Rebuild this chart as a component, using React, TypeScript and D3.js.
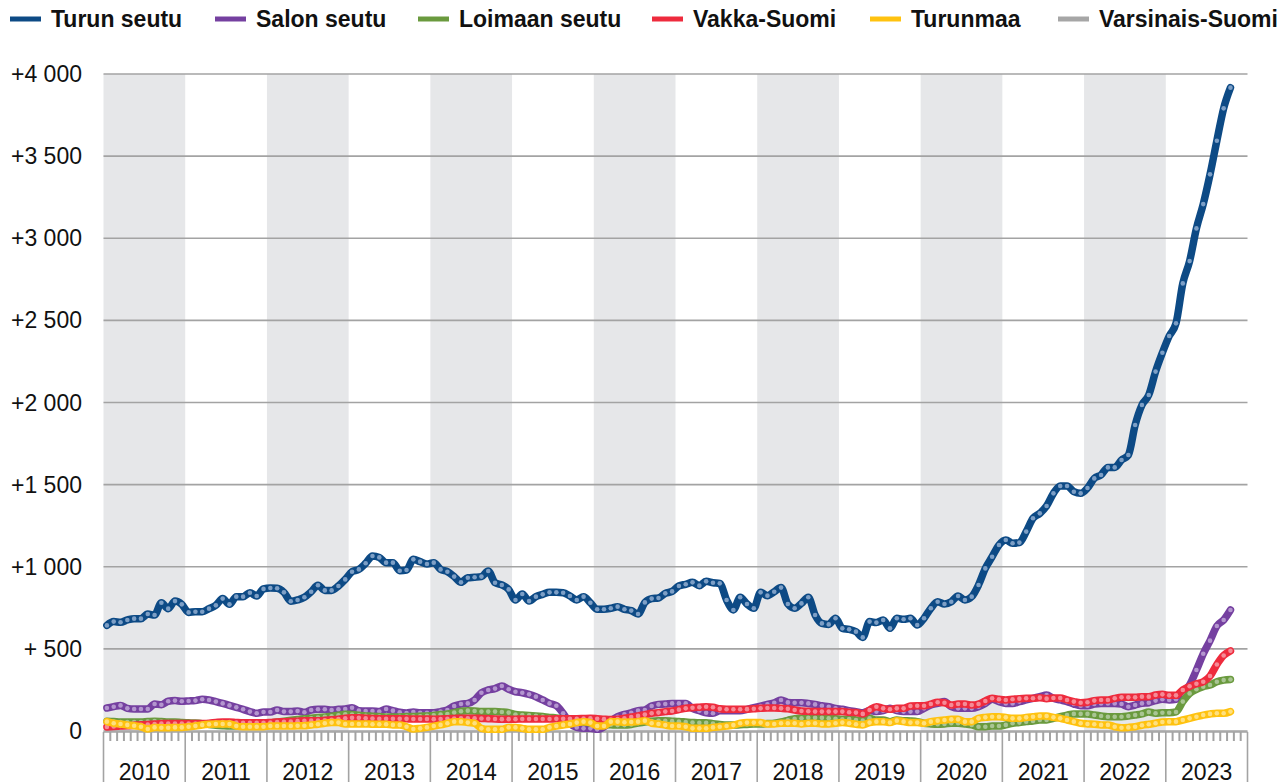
import React from "react";
import * as d3 from "d3";

// Monthly data, Jan 2010 .. Oct 2023
const years = d3.range(2010, 2024);

const turunSeutu = [
  643, 666, 662, 676, 684, 684, 712, 706, 781, 745, 791, 771,
  722, 726, 726, 745, 765, 806, 771, 818, 818, 842, 822, 865,
  871, 869, 844, 790, 798, 814, 848, 887, 856, 856, 883, 923,
  970, 984, 1021, 1065, 1057, 1025, 1025, 976, 980, 1045, 1031, 1017,
  1025, 984, 970, 940, 905, 933, 936, 940, 974, 903, 889, 862,
  798, 834, 791, 818, 832, 844, 844, 842, 822, 798, 818, 781,
  741, 741, 747, 757, 741, 733, 712, 783, 806, 810, 838, 850,
  883, 893, 905, 885, 911, 903, 899, 798, 737, 814, 773, 747,
  844, 824, 848, 873, 773, 747, 777, 814, 706, 655, 649, 686,
  625, 619, 605, 570, 666, 660, 676, 625, 686, 680, 686, 645,
  686, 747, 787, 773, 787, 822, 798, 818, 889, 990, 1061, 1132,
  1163, 1143, 1147, 1214, 1295, 1325, 1370, 1447, 1492, 1492, 1457, 1447,
  1479, 1538, 1559, 1605, 1605, 1650, 1680, 1863, 1985, 2046, 2188, 2303,
  2405, 2482, 2725, 2861, 3060, 3208, 3389, 3594, 3791, 3917,
];

const salonSeutu = [
  140, 148, 156, 138, 134, 134, 134, 164, 160, 181, 185, 181,
  183, 185, 193, 189, 179, 168, 156, 144, 132, 118, 108, 116,
  116, 128, 118, 118, 122, 114, 128, 132, 132, 128, 132, 134,
  142, 124, 122, 122, 118, 134, 124, 114, 110, 116, 111, 111,
  111, 118, 128, 152, 164, 168, 189, 233, 250, 258, 274, 254,
  239, 233, 223, 209, 189, 168, 154, 108, 47, 22, 16, 16,
  10, 26, 61, 87, 101, 111, 124, 128, 152, 162, 164, 168,
  168, 168, 138, 124, 111, 108, 124, 124, 124, 124, 132, 142,
  152, 162, 172, 189, 174, 172, 172, 168, 162, 154, 148, 138,
  132, 124, 118, 111, 124, 118, 124, 138, 124, 118, 118, 118,
  138, 158, 168, 179, 148, 138, 138, 138, 148, 168, 193, 179,
  168, 168, 179, 189, 199, 209, 219, 199, 189, 179, 164, 154,
  154, 164, 168, 168, 168, 164, 148, 158, 168, 172, 185, 193,
  189, 193, 229, 280, 371, 470, 550, 639, 676, 737,
];

const loimaanSeutu = [
  60, 58, 55, 55, 55, 55, 58, 60, 58, 55, 55, 52,
  50, 48, 45, 40, 35, 32, 30, 30, 32, 35, 40, 45,
  50, 55, 60, 65, 70, 75, 78, 82, 86, 90, 96, 102,
  100, 96, 92, 90, 88, 86, 85, 86, 88, 88, 90, 92,
  95, 100, 103, 112, 120, 124, 122, 118, 118, 118, 116, 112,
  100, 97, 95, 92, 88, 83, 80, 75, 70, 62, 55, 50,
  45, 40, 38, 36, 36, 40, 48, 55, 60, 62, 62, 60,
  58, 55, 52, 50, 50, 45, 40, 36, 36, 38, 40, 42,
  42, 45, 48, 55, 65, 75, 78, 80, 80, 80, 78, 75,
  71, 73, 67, 63, 77, 67, 67, 57, 67, 63, 61, 57,
  47, 43, 41, 43, 47, 47, 43, 37, 26, 26, 30, 30,
  37, 47, 51, 57, 61, 67, 67, 77, 87, 97, 104, 104,
  104, 97, 91, 87, 87, 87, 91, 97, 104, 116, 108, 111,
  111, 116, 179, 229, 254, 270, 280, 300, 310, 314,
];

const vakkaSuomi = [
  25, 28, 30, 32, 35, 38, 40, 42, 45, 45, 46, 46,
  45, 45, 46, 48, 52, 55, 55, 52, 50, 50, 50, 50,
  52, 55, 56, 58, 60, 62, 63, 63, 65, 68, 72, 78,
  80, 80, 78, 76, 75, 75, 75, 75, 74, 73, 73, 73,
  72, 73, 75, 76, 78, 78, 78, 76, 75, 73, 72, 72,
  72, 73, 73, 73, 73, 73, 74, 74, 75, 75, 76, 77,
  75, 72, 70, 72, 78, 85, 92, 100, 108, 112, 118, 122,
  130, 138, 142, 145, 148, 145, 135, 132, 132, 132, 133, 135,
  138, 140, 140, 138, 135, 128, 122, 120, 118, 118, 118, 118,
  118, 114, 112, 104, 128, 148, 138, 132, 138, 138, 152, 154,
  154, 164, 175, 172, 158, 164, 164, 158, 164, 183, 199, 193,
  189, 193, 197, 199, 199, 203, 197, 201, 201, 189, 179, 172,
  175, 185, 189, 189, 199, 205, 205, 205, 209, 209, 219, 223,
  217, 217, 250, 272, 288, 300, 335, 405, 460, 488,
];

const turunmaa = [
  57, 47, 43, 37, 32, 26, 12, 22, 20, 20, 22, 22,
  26, 30, 37, 41, 43, 43, 43, 30, 26, 26, 26, 26,
  30, 30, 30, 30, 32, 32, 37, 41, 47, 51, 51, 43,
  43, 43, 43, 41, 41, 41, 37, 37, 26, 12, 16, 22,
  30, 37, 47, 57, 57, 51, 47, 16, 10, 10, 10, 22,
  22, 16, 10, 10, 10, 22, 30, 37, 43, 51, 57, 51,
  30, 30, 57, 57, 53, 55, 57, 63, 47, 43, 36, 30,
  30, 26, 16, 16, 16, 22, 26, 30, 36, 47, 51, 51,
  51, 43, 43, 47, 47, 47, 43, 47, 47, 43, 43, 47,
  51, 47, 41, 37, 51, 57, 57, 51, 63, 57, 51, 51,
  47, 57, 63, 67, 71, 71, 57, 57, 77, 83, 87, 87,
  83, 77, 77, 83, 87, 91, 91, 83, 77, 67, 57, 47,
  43, 41, 37, 37, 26, 20, 22, 26, 35, 41, 47, 55,
  57, 57, 67, 77, 87, 97, 104, 108, 108, 118,
];

const yTicks = [0, 500, 1000, 1500, 2000, 2500, 3000, 3500, 4000];
const yTickLabels = ["0", "+ 500", "+1 000", "+1 500", "+2 000", "+2 500", "+3 000", "+3 500", "+4 000"];

const series = [
  { name: "Salon seutu", values: salonSeutu, color: "#7540a0", dot: "#b496cf" },
  { name: "Loimaan seutu", values: loimaanSeutu, color: "#6a9a3e", dot: "#a9c593" },
  { name: "Vakka-Suomi", values: vakkaSuomi, color: "#ee2b3d", dot: "#f58b97" },
  { name: "Turunmaa", values: turunmaa, color: "#ffc20f", dot: "#ffe07e" },
  { name: "Turun seutu", values: turunSeutu, color: "#0d4a85", dot: "#7d9fc6" },
];

const legendItems = [
  { name: "Turun seutu", color: "#0d4a85", x: 10 },
  { name: "Salon seutu", color: "#7540a0", x: 215 },
  { name: "Loimaan seutu", color: "#6a9a3e", x: 418 },
  { name: "Vakka-Suomi", color: "#ee2b3d", x: 652 },
  { name: "Turunmaa", color: "#ffc20f", x: 870 },
  { name: "Varsinais-Suomi", color: "#a6a6a6", x: 1058 },
];

const W = 1282;
const H = 782;
const left = 103.5;
const right = 1247.5;
const top = 74;
const bottom = 731;
const font = "'Liberation Sans', Arial, sans-serif";

export default function App() {
  const nMonths = years.length * 12;
  const x = d3.scaleLinear().domain([0, nMonths]).range([left, right]);
  const y = d3.scaleLinear().domain([0, 4000]).range([bottom, top]);

  const line = d3
    .line<number>()
    .x((_, i) => x(i + 0.5))
    .y((d) => y(d))
    .curve(d3.curveMonotoneX);

  const monthTicks = d3.range(0, nMonths + 1);

  return (
    <svg
      width={W}
      height={H}
      style={{ position: "absolute", left: 0, top: 0, background: "#fff" }}
      fontFamily={font}
    >
      {years.map((yr, k) =>
        k % 2 === 0 ? (
          <rect
            key={"band" + yr}
            x={x(k * 12)}
            y={top}
            width={x((k + 1) * 12) - x(k * 12)}
            height={bottom - top}
            fill="#e6e7e9"
          />
        ) : null
      )}
      {yTicks.map((t) => (
        <line key={"g" + t} x1={left} x2={right} y1={y(t)} y2={y(t)} stroke="#a3a3a3" strokeWidth={1.6} />
      ))}
      {yTicks.map((t, i) => (
        <text
          key={"yl" + t}
          x={82}
          y={y(t)}
          textAnchor="end"
          dominantBaseline="central"
          fontSize={23}
          fill="#111"
        >
          {yTickLabels[i]}
        </text>
      ))}
      <line x1={left} x2={right} y1={bottom + 1} y2={bottom + 1} stroke="#a3a3a3" strokeWidth={1.6} />
      {monthTicks.map((m) => (
        <line
          key={"t" + m}
          x1={x(m)}
          x2={x(m)}
          y1={bottom + 1}
          y2={m % 12 === 0 ? H : bottom + 10}
          stroke="#a3a3a3"
          strokeWidth={m % 12 === 0 ? 1.6 : 2}
        />
      ))}
      {years.map((yr, k) => (
        <text
          key={"xl" + yr}
          x={x(k * 12 + 6)}
          y={780}
          textAnchor="middle"
          fontSize={23}
          fill="#111"
        >
          {String(yr)}
        </text>
      ))}
      {series.map((s) => (
        <g key={s.name}>
          <path d={line(s.values) || ""} fill="none" stroke={s.color} strokeWidth={7.5} strokeLinejoin="round" strokeLinecap="round" />
          {s.values.map((v, i) => (
            <circle key={i} cx={x(i + 0.5)} cy={y(v)} r={2.3} fill={s.dot} />
          ))}
        </g>
      ))}
      {legendItems.map((it) => (
        <g key={"lg" + it.name}>
          <line x1={it.x} x2={it.x + 31} y1={19} y2={19} stroke={it.color} strokeWidth={5} />
          <text x={it.x + 41} y={19} dominantBaseline="central" fontSize={23} fontWeight="bold" fill="#111">
            {it.name}
          </text>
        </g>
      ))}
    </svg>
  );
}
